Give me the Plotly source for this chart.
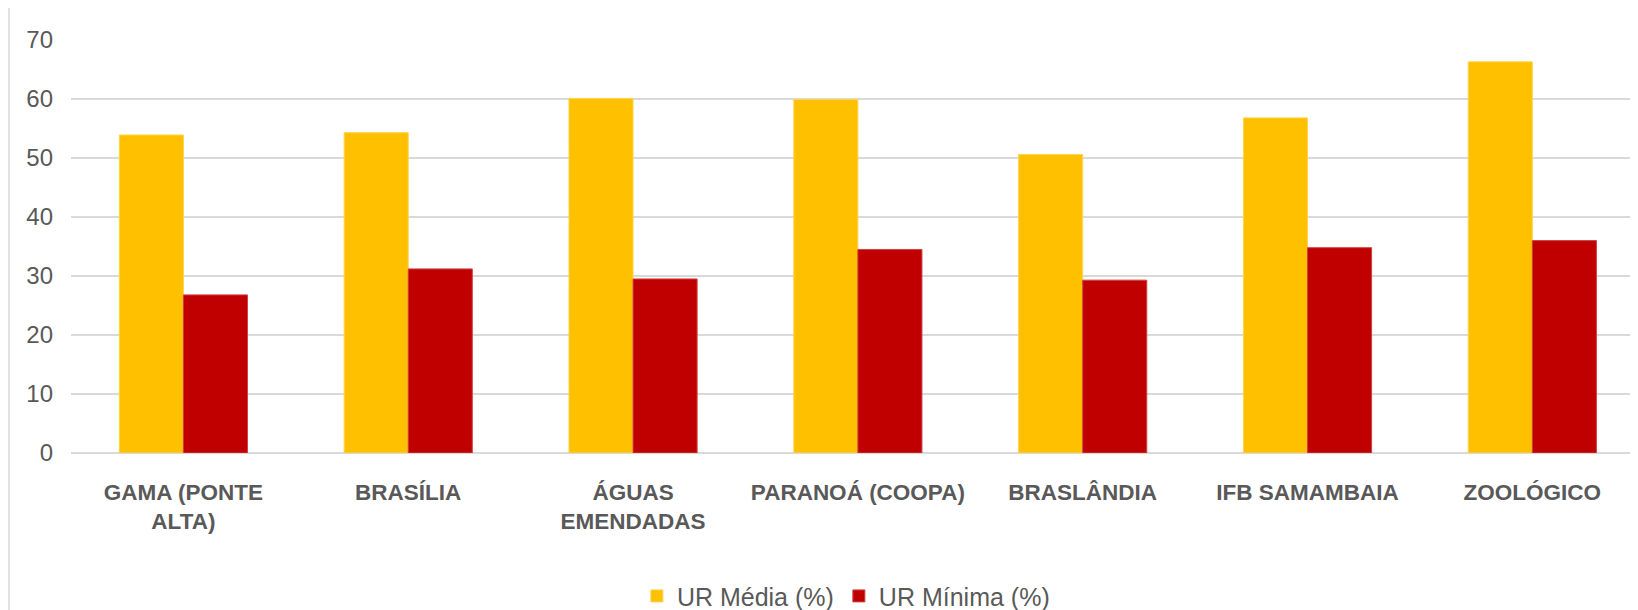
import plotly.graph_objects as go

categories = ["GAMA (PONTE<br>ALTA)", "BRASÍLIA", "ÁGUAS<br>EMENDADAS", "PARANOÁ (COOPA)",
              "BRASLÂNDIA", "IFB SAMAMBAIA", "ZOOLÓGICO"]
ur_media = [53.9, 54.3, 60.1, 59.9, 50.6, 56.8, 66.3]
ur_minima = [26.8, 31.2, 29.5, 34.5, 29.3, 34.8, 36.0]
y_ticks = [0, 10, 20, 30, 40, 50, 60, 70]

fig = go.Figure()
fig.add_trace(go.Bar(x=categories, y=ur_media, name="UR Média (%)",
                     marker=dict(color="#FFC000", line=dict(color="#FFD34D", width=1))))
fig.add_trace(go.Bar(x=categories, y=ur_minima, name="UR Mínima (%)",
                     marker=dict(color="#C00000", line=dict(color="#D04040", width=1))))

fig.update_layout(
    width=1630, height=602,
    margin=dict(l=63, r=0, t=32, b=157, autoexpand=False),
    paper_bgcolor="white", plot_bgcolor="white",
    barmode="group", bargap=0.43, bargroupgap=0,
    showlegend=True,
    legend=dict(orientation="h", x=0.4945, xanchor="center", yref="container", y=0.023, yanchor="middle",
                font=dict(family="Liberation Sans, Arial", size=25, color="#595959"),
                itemwidth=30, traceorder="normal"),
    xaxis=dict(range=[-0.5, 6.47], showgrid=False, zeroline=False, showline=False,
               tickfont=dict(family="Liberation Sans, Arial", size=22.5, color="#595959", weight="bold"),
               ticks="", ticklabelstandoff=23, automargin=False),
    yaxis=dict(range=[0, 70], tickvals=y_ticks, showgrid=True, gridcolor="#D9D9D9", gridwidth=1.5,
               zeroline=True, zerolinecolor="#D9D9D9", zerolinewidth=1.5, showline=False,
               tickfont=dict(family="Liberation Sans, Arial", size=24, color="#595959"),
               ticks="", ticklabelstandoff=17, automargin=False),
    shapes=[dict(type="line", xref="paper", yref="paper", x0=-62/1567, x1=-62/1567,
                 y0=-157/413, y1=(413+32)/413, line=dict(color="#D9D9D9", width=1.5))],
)

fig.write_html("out.html")
